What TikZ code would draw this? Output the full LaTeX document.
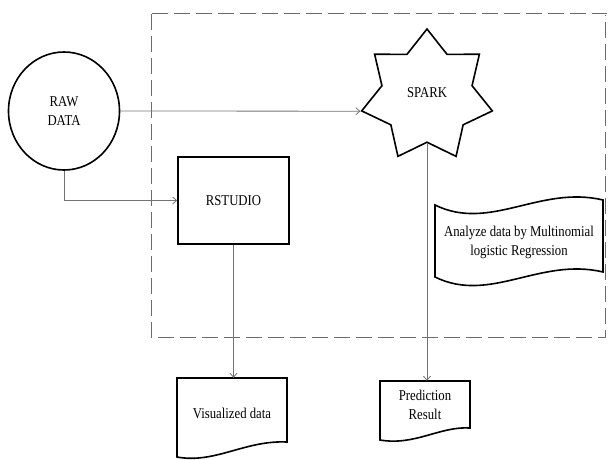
\documentclass[tikz,border=0pt]{standalone}
\usepackage{fontspec}
\setmainfont{Liberation Serif}[FakeStretch=0.85]
\usetikzlibrary{shapes.geometric,arrows.meta,calc}
\begin{document}
\begin{tikzpicture}[x=1pt,y=-1pt,
  every node/.style={font=\fontsize{15}{19}\selectfont, text=black, align=center},
  shapeline/.style={line width=1.6pt, draw=black},
  conn/.style={draw=gray!90!black, line width=0.8pt, -{Straight Barb[length=4pt,width=7pt]}},
  frame/.style={draw=gray!85!black, line width=0.9pt, double=white, double distance=0.8pt, dash pattern=on 16pt off 6pt}
]
\useasboundingbox (0,0) rectangle (608,459);
% dashed double frame
\draw[frame] (152,14) rectangle (606,338);

% nodes
\node[ellipse, shapeline, minimum width=111pt, minimum height=118pt, inner sep=0pt] (raw) at (64,111) {RAW\\DATA};
\node[star, star points=7, star point ratio=1.45, minimum size=134pt, inner sep=0pt, shapeline] (spark) at (427,96) {\raisebox{6pt}{SPARK}};
\node[rectangle, shapeline, minimum width=111pt, minimum height=87pt] (rstudio) at (233.5,200.5) {RSTUDIO};
\node[minimum width=110pt, minimum height=70pt, inner sep=0pt] (vis) at (232,413) {Visualized data};
\node[minimum width=90pt, minimum height=48pt, inner sep=0pt] (pred) at (425,405) {Prediction\\Result};
\node[minimum width=168pt, minimum height=72pt, inner sep=0pt] (an) at (519,242) {Analyze data by Multinomial\\logistic Regression};

% document outlines
\draw[shapeline, shift={(vis.center)}] (-55,-35) -- (55,-35) -- (55,29) .. controls (13,27) and (-17,51) .. (-55,44) -- cycle;
\draw[shapeline, shift={(pred.center)}] (-45,-24) -- (45,-24) -- (45,23) .. controls (15,21) and (-10,41) .. (-45,35) -- cycle;
\draw[shapeline, shift={(an.center)}] (-84,-37) .. controls (-29,-10) and (21,-57) .. (84,-42) -- (84,30) .. controls (21,15) and (-29,62) .. (-84,35) -- cycle;

% connectors
\draw[conn] (raw.east) -- (spark.outer point 3);
\draw[conn] (raw.south) |- (rstudio.west);
\draw[conn] (rstudio.south) -- (rstudio.south |- vis.north);
\draw[conn] (spark.inner point 4) -- (spark.inner point 4 |- pred.north);
\end{tikzpicture}
\end{document}
